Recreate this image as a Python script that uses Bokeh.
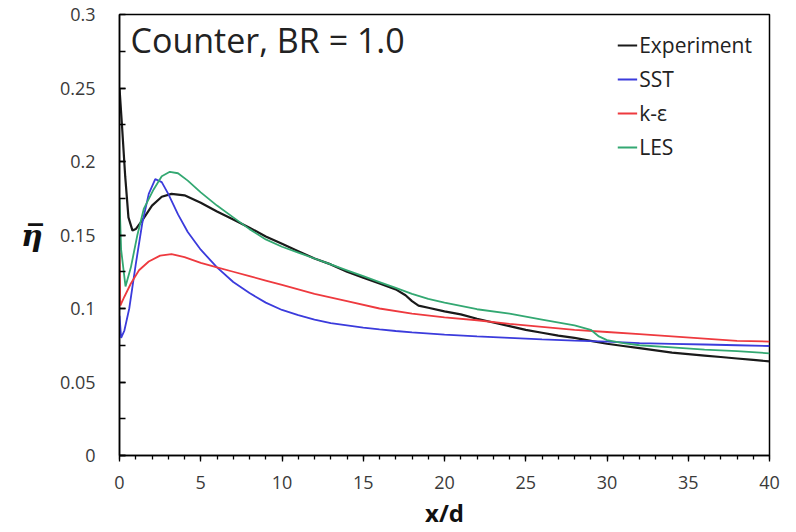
from bokeh.plotting import figure
from bokeh.models import Range1d, Label, Legend, LegendItem, FixedTicker
from bokeh.embed import file_html
from bokeh.resources import INLINE

# ---- data ----
exp_x = [0, 0.15, 0.35, 0.55, 0.8, 1.0, 1.4, 2.0, 2.6, 3.2, 4.0, 5.0, 6.0, 7.0, 8.0, 9.0, 10.0,
         11.0, 12.0, 13.0, 14.0, 15.0, 16.0, 17.0, 17.6, 18.0, 18.4, 19.0, 20.0, 21.0, 22.0, 23.0,
         24.0, 25.0, 26.0, 27.0, 28.0, 29.0, 30.0, 31.0, 32.0, 33.0, 34.0, 35.0, 36.0, 37.0, 38.0,
         39.0, 40.0]
exp_y = [0.25, 0.225, 0.19, 0.162, 0.153, 0.154, 0.160, 0.170, 0.176, 0.178, 0.177, 0.172, 0.166,
         0.1605, 0.155, 0.149, 0.144, 0.139, 0.134, 0.130, 0.125, 0.121, 0.117, 0.113, 0.109, 0.105,
         0.102, 0.1005, 0.098, 0.096, 0.093, 0.0905, 0.088, 0.0855, 0.0835, 0.0815, 0.080, 0.078,
         0.076, 0.0745, 0.073, 0.0715, 0.070, 0.069, 0.068, 0.067, 0.066, 0.065, 0.064]

sst_x = [0, 0.1, 0.3, 0.6, 1.0, 1.4, 1.8, 2.2, 2.6, 3.0, 3.6, 4.2, 5.0, 6.0, 7.0, 8.0, 9.0, 10,
         11, 12, 13, 14, 15, 16, 17, 18, 20, 22, 24, 26, 28, 30, 32, 34, 36, 38, 40]
sst_y = [0.095, 0.08, 0.085, 0.10, 0.13, 0.158, 0.178, 0.188, 0.186, 0.178, 0.164, 0.152, 0.140,
         0.128, 0.118, 0.1105, 0.104, 0.099, 0.0955, 0.0925, 0.090, 0.0885, 0.087, 0.0858, 0.0847,
         0.0838, 0.0822, 0.081, 0.080, 0.079, 0.0782, 0.0775, 0.0765, 0.076, 0.0755, 0.075, 0.0745]

ke_x = [0, 0.05, 0.3, 0.7, 1.2, 1.8, 2.5, 3.2, 4.0, 5.0, 6, 7, 8, 9, 10, 12, 14, 16, 18, 20, 22,
        24, 26, 28, 30, 32, 34, 36, 38, 40]
ke_y = [0.138, 0.102, 0.108, 0.117, 0.126, 0.132, 0.136, 0.137, 0.135, 0.131, 0.128, 0.125, 0.122,
        0.119, 0.116, 0.110, 0.105, 0.100, 0.0965, 0.094, 0.092, 0.0895, 0.0875, 0.0855, 0.084,
        0.0825, 0.081, 0.0795, 0.078, 0.0775]

les_x = [0, 0.1, 0.37, 0.7, 1.1, 1.5, 2.1, 2.6, 3.1, 3.6, 4.2, 5.0, 6, 7, 8, 9, 10, 11, 12, 13,
         14, 15, 16, 17, 18, 19, 20, 22, 24, 26, 28, 29, 29.5, 30, 31, 32, 34, 36, 38, 40]
les_y = [0.175, 0.14, 0.115, 0.128, 0.15, 0.168, 0.181, 0.19, 0.193, 0.192, 0.187, 0.179, 0.170,
         0.162, 0.154, 0.147, 0.142, 0.138, 0.134, 0.130, 0.126, 0.122, 0.118, 0.114, 0.110, 0.1065,
         0.104, 0.0995, 0.0965, 0.0925, 0.0885, 0.0855, 0.081, 0.0785, 0.0765, 0.075, 0.0735, 0.072,
         0.071, 0.0695]

x_ticks = [0, 5, 10, 15, 20, 25, 30, 35, 40]
y_ticks = [0, 0.05, 0.1, 0.15, 0.2, 0.25, 0.3]
y_tick_labels = {0: "0", 0.05: "0.05", 0.1: "0.1", 0.15: "0.15", 0.2: "0.2", 0.25: "0.25", 0.3: "0.3"}

p = figure(width=790, height=532, output_backend="svg", toolbar_location=None,
           x_range=Range1d(0, 40), y_range=Range1d(0, 0.3),
           min_border_left=119, min_border_right=21, min_border_top=14, min_border_bottom=77)
p.xgrid.visible = False
p.ygrid.visible = False
p.outline_line_color = "black"
p.outline_line_width = 1.5
p.outline_line_alpha = 1.0

tick_font = "Open Sans"
# x axis
p.xaxis.ticker = FixedTicker(ticks=x_ticks, minor_ticks=list(range(0, 41)))
p.xaxis.major_tick_out = 6
p.xaxis.major_tick_in = 0
p.xaxis.minor_tick_out = 4
p.xaxis.minor_tick_in = 0
p.xaxis.major_label_standoff = 14
p.xaxis.axis_label = "x/d"
p.xaxis.axis_label_text_font = tick_font
p.xaxis.axis_label_text_font_style = "bold"
p.xaxis.axis_label_text_font_size = "24px"
p.xaxis.axis_label_text_color = "#111111"
p.xaxis.axis_label_standoff = 4
# y axis
p.yaxis.ticker = FixedTicker(ticks=y_ticks, minor_ticks=[i * 0.025 for i in range(13)])
p.yaxis.major_label_overrides = y_tick_labels
p.yaxis.major_tick_out = 0
p.yaxis.major_tick_in = 6
p.yaxis.minor_tick_out = 0
p.yaxis.minor_tick_in = 6
p.yaxis.major_label_standoff = 24
p.yaxis.axis_label = "\u03B7\u0305"
p.yaxis.axis_label_orientation = "horizontal"
p.yaxis.axis_label_text_font = "DejaVu Serif"
p.yaxis.axis_label_text_font_style = "bold italic"
p.yaxis.axis_label_text_font_size = "30px"
p.yaxis.axis_label_text_color = "#111111"
p.yaxis.axis_label_standoff = 14

for ax in (p.xaxis, p.yaxis):
    ax.axis_line_color = "black"
    ax.axis_line_width = 1.5
    ax.major_tick_line_color = "black"
    ax.minor_tick_line_color = "black"
    ax.major_tick_line_width = 1.3
    ax.minor_tick_line_width = 1.3
    ax.major_label_text_font = tick_font
    ax.major_label_text_font_size = "18px"
    ax.major_label_text_color = "#3a3a3a"

r_exp = p.line(exp_x, exp_y, line_color="#1a1a1a", line_width=2.2)
r_sst = p.line(sst_x, sst_y, line_color="#3b3bdc", line_width=1.8)
r_ke = p.line(ke_x, ke_y, line_color="#ee3a3f", line_width=1.8)
r_les = p.line(les_x, les_y, line_color="#33a872", line_width=1.8)

legend = Legend(items=[LegendItem(label="Experiment", renderers=[r_exp]),
                       LegendItem(label="SST", renderers=[r_sst]),
                       LegendItem(label="k-\u03b5", renderers=[r_ke]),
                       LegendItem(label="LES", renderers=[r_les])],
                location="top_right")
legend.border_line_alpha = 0
legend.background_fill_alpha = 0
legend.label_text_font = tick_font
legend.label_text_font_size = "21px"
legend.label_text_color = "#222222"
legend.glyph_width = 20
legend.glyph_height = 20
legend.label_height = 20
legend.label_standoff = 2
legend.spacing = 6
legend.margin = 9
legend.padding = 8
p.add_layout(legend)

p.add_layout(Label(x=0.68, y=0.298, text="Counter, BR = 1.0", text_font=tick_font,
                   text_font_size="34px", text_color="#222222", text_baseline="top"))

open("out.html", "w").write(file_html(p, INLINE))
